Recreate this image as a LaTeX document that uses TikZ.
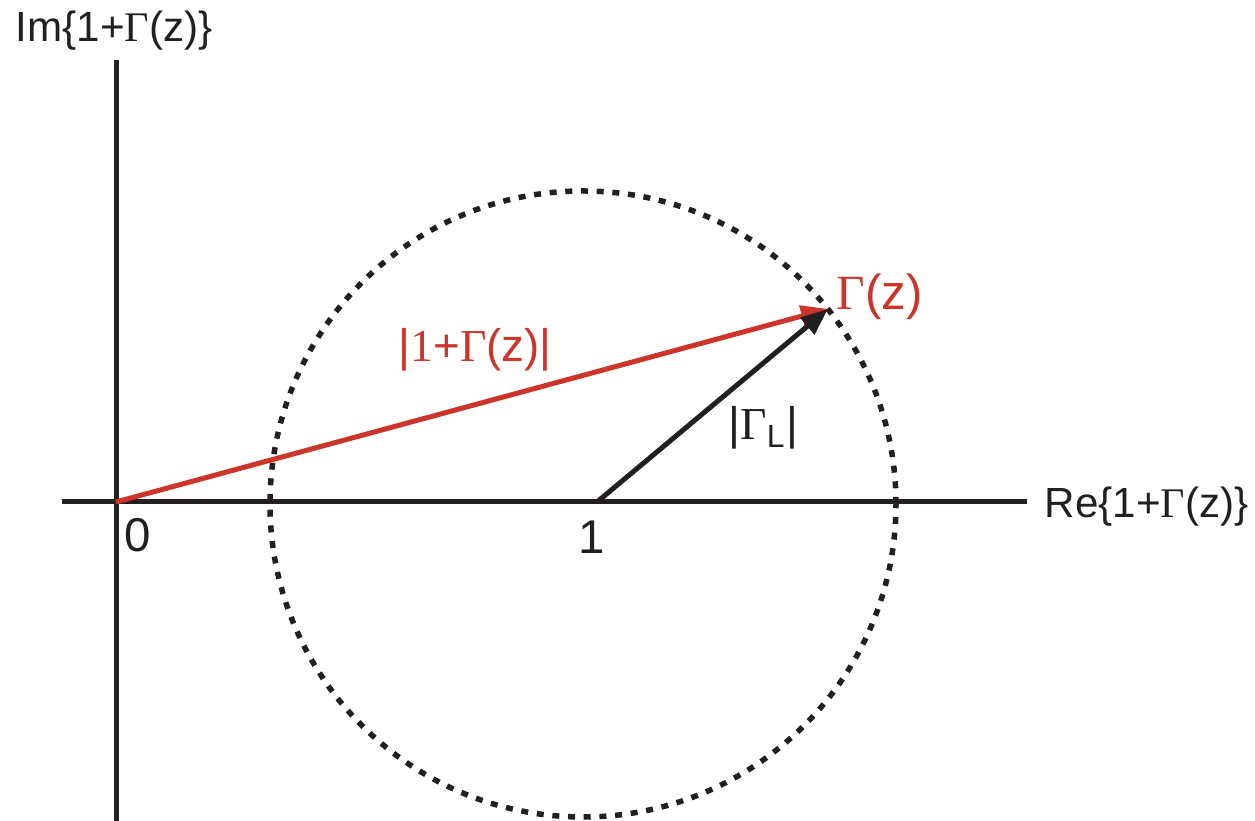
\documentclass[tikz,border=0pt]{standalone}
\usepackage{fontspec}
\setmainfont{Liberation Sans}
\newfontfamily\serifgam{Liberation Serif}
\usetikzlibrary{arrows.meta}
\definecolor{gred}{RGB}{205,52,42}
\definecolor{ink}{RGB}{35,31,32}
\newcommand{\Gam}{{\serifgam Γ}}

\begin{document}
\begin{tikzpicture}[axis/.style={ink,line width=0.05cm},
  lbl/.style={inner sep=0pt,ink,font=\fontsize{12}{14}\selectfont},
  big/.style={inner sep=0pt,font=\fontsize{13.5}{16}\selectfont},
  vec/.style={line width=0.05cm,-{Triangle[length=0.27cm,width=0.21cm]}}]
\useasboundingbox (0,0) rectangle (12.55,-8.21);
\coordinate (O) at (1.16,-5.02);
\coordinate (one) at (5.97,-5.02);
\coordinate (G) at (8.28,-3.09);
\coordinate (C) at (5.83,-5.04);
\coordinate (xa) at (0.62,-5.02);
\coordinate (xb) at (10.27,-5.02);
\coordinate (ya) at (1.16,-8.21);
\coordinate (yb) at (1.16,-0.60);
% axes
\draw[axis] (xa)--(xb);
\draw[axis] (ya)--(yb);
\node[lbl,anchor=base west] (im) at (0.15,-0.42) {Im\{1+\Gam(z)\}};
\node[lbl,anchor=base west] (re) at (10.44,-5.18) {Re\{1+\Gam(z)\}};
\node[big,ink,anchor=base] (zero) at (1.38,-5.52) {0};
\node[big,ink,anchor=base] (unit) at (5.92,-5.54) {1};
% circle |Gamma_L|
\draw[ink,line width=0.055cm,dash pattern=on 0.07cm off 0.087cm] (C) circle (3.13);
% vectors
\draw[vec,gred] (O)--(G);
\draw[vec,ink] (one)--(G);
\node[big,gred,anchor=base west,font=\fontsize{14}{16}\selectfont] (gz) at (8.36,-3.10) {\Gam(z)};
\node[big,gred,anchor=base west,font=\fontsize{13}{15}\selectfont] (mag) at (3.98,-3.62) {|{\serifgam 1}+\Gam(z)|};
\node[big,ink,anchor=base west,font=\fontsize{13}{15}\selectfont] (gl) at (7.28,-4.40) {|\Gam\textsubscript{L}|};
\end{tikzpicture}
\end{document}
